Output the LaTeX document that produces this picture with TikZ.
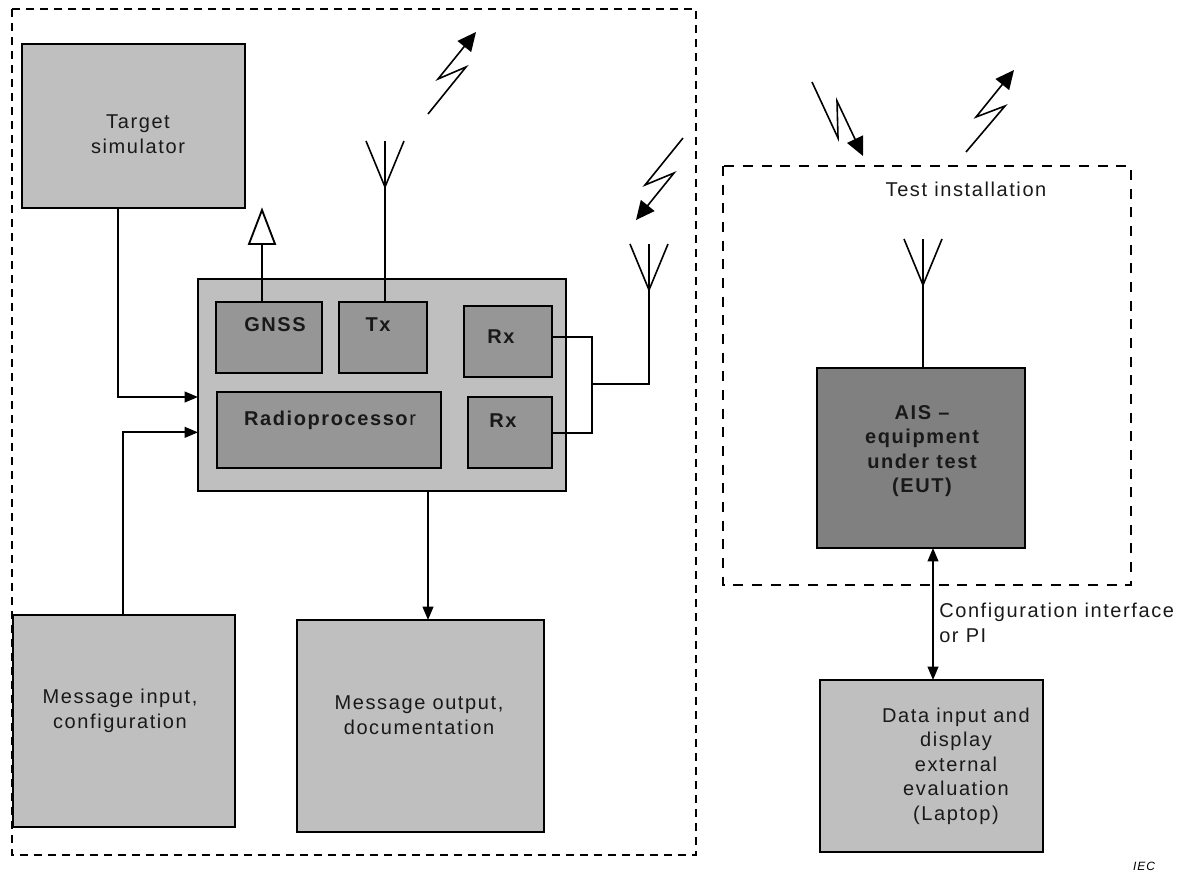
\documentclass[tikz,border=0pt]{standalone}
\usepackage{fontspec}
\setmainfont[LetterSpace=8]{Liberation Sans}
\usetikzlibrary{arrows.meta,fit}
\tikzset{
  lightbox/.style={draw,line width=1.3pt,fill=black!25,inner sep=0pt,outer sep=0pt},
  midbox/.style={lightbox,fill=black!41},
  darkbox/.style={lightbox,fill=black!50},
  boxtext/.style={font=\fontsize{15}{18.4}\selectfont,align=center,inner sep=0pt,text=black!90},
  boldtext/.style={boxtext,font=\fontsize{15}{18.4}\selectfont\bfseries},
  wire/.style={line width=1.4pt},
  flow/.style={wire,-{Triangle[length=10pt,width=8pt]}},
  bolt/.style={line width=1.2pt,line join=miter,-{Triangle[length=14pt,width=13pt]}},
}
\begin{document}
\begin{tikzpicture}[x=0.75pt,y=-0.75pt]
\useasboundingbox (0,0) rectangle (1184,872);
% frames
\draw[line width=1.1pt,dash pattern=on 6pt off 4.5pt] (12,9) rectangle (696,855);
\draw[line width=1.7pt,dash pattern=on 7.5pt off 6.5pt] (723,166) rectangle (1131,585);
% outer boxes
\node[lightbox,fit={(22,44) (245,208)}] (target) {};
\node[lightbox,fit={(198,279) (566,491)}] (main) {};
\node[lightbox,fit={(13,615) (235,827)}] (msgin) {};
\node[lightbox,fit={(297,620) (544,832)}] (msgout) {};
\node[lightbox,fit={(820,680) (1043,852)}] (laptop) {};
\node[darkbox,fit={(817,368) (1025,548)}] (eut) {};
% inner boxes
\node[midbox,fit={(216,302) (322,373)}] (gnss) {};
\node[midbox,fit={(339,302) (427,373)}] (tx) {};
\node[midbox,fit={(464,306) (552,377)}] (rxa) {};
\node[midbox,fit={(217,392) (441,468)}] (radio) {};
\node[midbox,fit={(468,397) (552,468)}] (rxb) {};
% texts
\node[boxtext] (targettext) at (138,134) {Target\\simulator};
\node[boxtext] (msgintext) at (120,711) {Message input,\\configuration};
\node[boxtext] (msgouttext) at (419,715) {Message output,\\documentation};
\node[boxtext] (laptoptext) at (956,766) {Data input and\\display\\external\\evaluation\\(Laptop)};
\node[boxtext] (testtext) at (966,189) {Test installation};
\node[boldtext] (euttext) at (922,451) {AIS --\\equipment\\under test\\(EUT)};
\node[boldtext] (gnsstext) at (275,325) {GNSS};
\node[boldtext] (txtext) at (378,325) {Tx};
\node[boldtext] (rxatext) at (501,337) {Rx};
\node[boldtext] (rxbtext) at (503,421) {Rx};
\node[boxtext] (radiotext) at (330,420) {\textbf{Radioprocesso}r};
\node[boxtext,align=left,anchor=west] (cfgtext) at (939,623) {Configuration interface\\or PI};
\node[font=\fontsize{9}{10}\selectfont\itshape,inner sep=0pt] (iec) at (1144,866) {IEC};
% antennas
\foreach \name/\x/\y in {anta/385/187,antb/649/290,antc/923/285}{
  \coordinate (\name) at (\x,\y);
  \draw[wire,line width=1.2pt] (\x-19,\y-46) -- (\name) -- (\x+19,\y-46);
  \draw[wire,line width=1.2pt] (\x,\y-46) -- (\name);
}
% connectors
\draw[flow] ([xshift=72pt]target.south west) |- ([yshift=-88.5pt]main.north west);
\draw[flow] ([xshift=82.5pt]msgin.north west) |- ([yshift=-115pt]main.north west);
\draw[flow] ([xshift=172.5pt]main.south west) -- ([xshift=98.25pt]msgout.north west);
\draw[wire,{Triangle[length=10pt,width=8pt]}-{Triangle[length=10pt,width=8pt]}] ([xshift=87pt]eut.south west) -- ([xshift=84.75pt]laptop.north west);
\draw[wire] (anta |- tx.north) -- (anta);
\draw[wire] (eut.north -| antc) -- (antc);
\draw[wire] ([yshift=-23.5pt]rxa.north east) -- ++(30pt,0) coordinate (rxjoin) |- ([yshift=-27pt]rxb.north east);
\draw[wire] (rxjoin |- antb) ++(0,94) -- ++(57,0) -- (antb);
% gnss antenna
\coordinate (gnsstop) at (262,244);
\draw[wire] (gnsstop |- gnss.north) -- (gnsstop);
\draw[wire,fill=white] (gnsstop) ++(-13,0) -- (262,210) -- (275,244) -- cycle;
% radio links
\draw[bolt] (428,114) -- (466,67) -- (438,79) -- (476,32);
\draw[bolt] (683,138) -- (645,185) -- (674,173) -- (636,220);
\draw[bolt] (812,82) -- (838,138) -- (837,101) -- (863,156);
\draw[bolt] (966,152) -- (1005,106) -- (976,117) -- (1014,70);
\end{tikzpicture}
\end{document}
